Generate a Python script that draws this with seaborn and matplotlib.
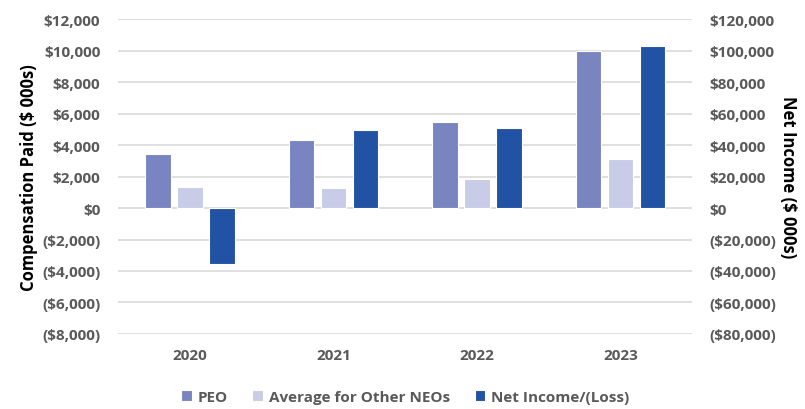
import pandas as pd
import numpy as np
import matplotlib
matplotlib.use('Agg')
import matplotlib.pyplot as plt
import seaborn as sns

years = ['2020', '2021', '2022', '2023']
peo = [3420, 4310, 5490, 9950]
avg_other_neos = [1350, 1250, 1840, 3130]
net_income = [-35700, 49600, 50700, 102600]

series_names = ['PEO', 'Average for Other NEOs', 'Net Income/(Loss)']
colors = ['#7985C1', '#C8CCE7', '#2152A3']

# right axis is exactly 10x the left one, so net income is drawn in left-axis units
ratio = 10

df = pd.DataFrame({
    'Year': years * 3,
    'Series': np.repeat(series_names, len(years)),
    'Value': peo + avg_other_neos + [v / ratio for v in net_income],
})

sns.set_style('white')
plt.rcParams['font.family'] = ['Open Sans', 'DejaVu Sans']

fig = plt.figure(figsize=(8.05, 4.10), dpi=100)
ax = fig.add_axes([0.147, 0.183, 0.713, 0.768])

sns.barplot(data=df, x='Year', y='Value', hue='Series', hue_order=series_names,
            palette=colors, saturation=1, width=0.67, gap=0.2, edgecolor='white',
            linewidth=0.8, errorbar=None, ax=ax, zorder=3)

ax.set_ylim(-8000, 12000)
ax.set_yticks(np.arange(-8000, 12001, 2000))
ax.set_xlim(-0.5, 3.5)
ax.yaxis.grid(True, color='#D9D9D9', linewidth=1.2, zorder=0)
ax.set_axisbelow(True)
for s in ax.spines.values():
    s.set_visible(False)


def money(v):
    return f'${v:,.0f}' if v >= 0 else f'(${-v:,.0f})'


ax.set_yticklabels([money(v) for v in ax.get_yticks()])
ax.tick_params(axis='y', length=0, labelsize=11, labelcolor='#595959', pad=13)
ax.tick_params(axis='x', length=0, labelsize=11, labelcolor='#595959', pad=10)
for lab in ax.get_xticklabels() + ax.get_yticklabels():
    lab.set_fontweight('bold')
ax.set_xlabel('')
ax.set_ylabel('Compensation Paid ($ 000s)', fontsize=12, fontweight='bold', color='black', labelpad=3)

ax2 = ax.twinx()
ax2.set_ylim(-8000 * ratio, 12000 * ratio)
ax2.set_yticks(np.arange(-80000, 120001, 20000))
ax2.set_yticklabels([money(v) for v in ax2.get_yticks()])
ax2.tick_params(axis='y', length=0, labelsize=11, labelcolor='#595959', pad=12)
for lab in ax2.get_yticklabels():
    lab.set_fontweight('bold')
for s in ax2.spines.values():
    s.set_visible(False)
ax2.set_ylabel('Net Income ($ 000s)', fontsize=12, fontweight='bold', color='black',
               rotation=-90, labelpad=15)

sns.move_legend(ax, 'center', bbox_to_anchor=(0.5, -0.2), ncol=3, frameon=False,
                title=None, fontsize=11, handlelength=0.7, handleheight=0.7,
                handletextpad=0.4, columnspacing=1.6)
for t in ax.get_legend().get_texts():
    t.set_color('#595959')
    t.set_fontweight('bold')

fig.savefig('out.png', dpi=100)
